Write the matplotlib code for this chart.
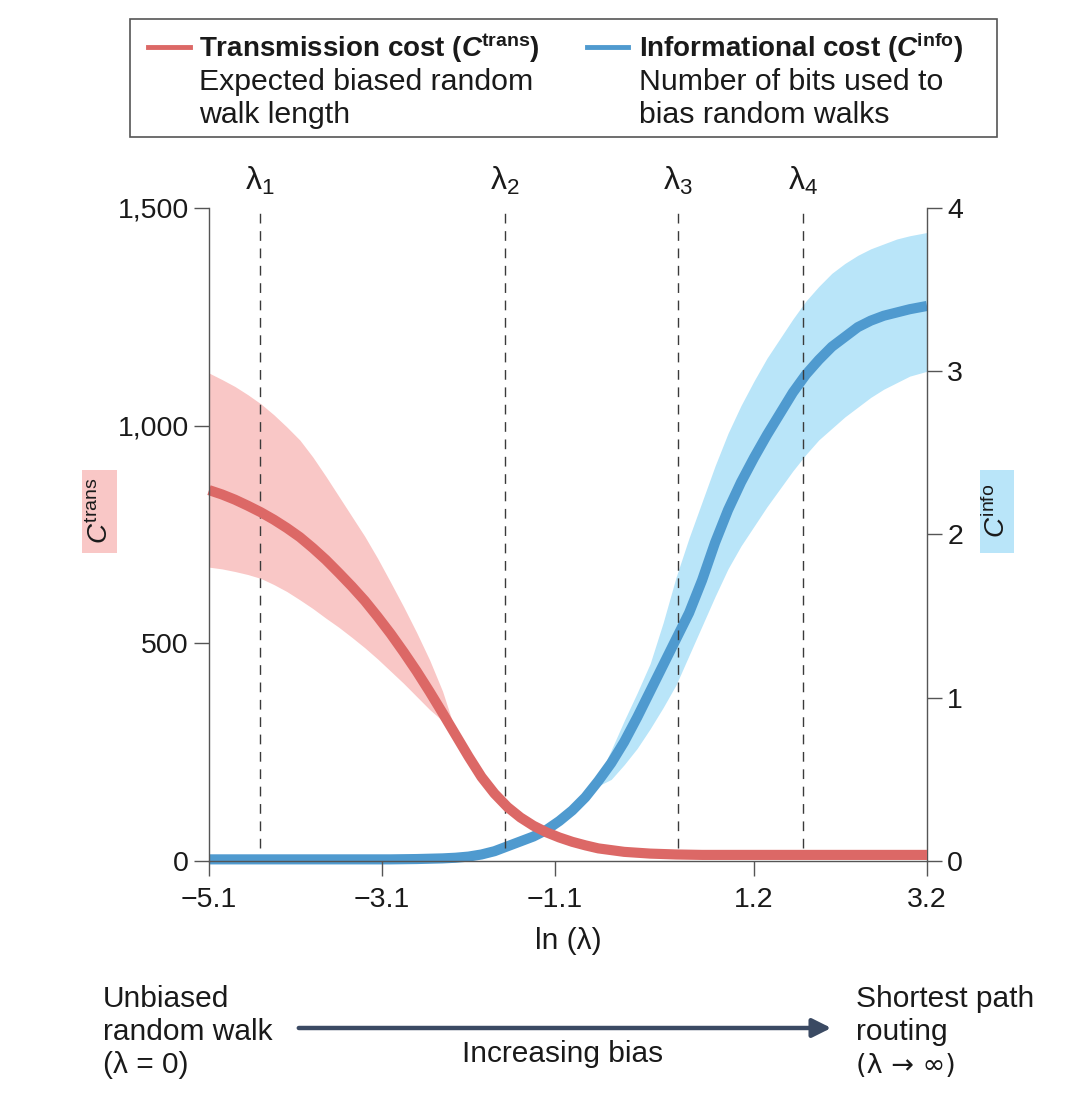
import matplotlib
matplotlib.use("Agg")
import matplotlib.pyplot as plt
from matplotlib.patches import Rectangle, FancyArrowPatch
from matplotlib.lines import Line2D

plt.rcParams["font.family"] = ["Liberation Sans", "DejaVu Sans"]
plt.rcParams["mathtext.fontset"] = "custom"
plt.rcParams["mathtext.rm"] = "Liberation Sans"
plt.rcParams["mathtext.it"] = "Liberation Sans:italic"
plt.rcParams["mathtext.bf"] = "Liberation Sans:bold"
plt.rcParams["mathtext.bfit"] = "Liberation Sans:bold:italic"

W, H = 1080, 1094

RED = "#dc6866"
RED_BAND = "#f9c7c6"
BLUE = "#4f9acf"
BLUE_BAND = "#b9e5f9"
NAVY = "#3b4a63"
AXIS_GREY = "#555555"
TEXT = "#1a1a1a"

# transmission cost (left axis)
RED_X = [-5.1, -4.95, -4.8, -4.65, -4.5, -4.35, -4.2, -4.05, -3.9, -3.75,
         -3.6, -3.45, -3.3, -3.15, -3.0, -2.85, -2.7, -2.55, -2.4, -2.25,
         -2.1, -1.95, -1.8, -1.65, -1.5, -1.35, -1.2, -1.05, -0.9, -0.75,
         -0.6, -0.45, -0.3, -0.15, 0.0, 0.3, 0.6, 3.2]
RED_Y = [852, 842, 830, 816, 801, 784, 765, 744, 719, 692,
         662, 631, 598, 561, 522, 480, 436, 389, 340, 290,
         240, 193, 155, 124, 100, 81, 66, 54, 44, 36,
         29, 25, 21, 19, 17, 15, 14, 14]
RED_BAND_X = [-5.1, -4.95, -4.8, -4.65, -4.5, -4.35, -4.2, -4.05, -3.9, -3.75,
              -3.6, -3.45, -3.3, -3.15, -3.0, -2.85, -2.7, -2.55, -2.4, -2.25]
RED_BAND_UPPER = [1121, 1106, 1090, 1071, 1050, 1025, 997, 967, 928, 884,
                  838, 792, 746, 695, 640, 584, 525, 462, 390, 298]
RED_BAND_LOWER = [675, 671, 665, 658, 649, 635, 619, 600, 580, 558,
                  537, 514, 490, 464, 436, 408, 378, 348, 322, 298]

# informational cost (right axis)
BLUE_X = [-5.1, -3.0, -2.7, -2.4, -2.25, -2.1, -1.95, -1.8, -1.65, -1.5,
          -1.35, -1.2, -1.05, -0.9, -0.75, -0.6, -0.45, -0.3, -0.15, 0.0,
          0.15, 0.3, 0.45, 0.6, 0.75, 0.9, 1.05, 1.2, 1.35, 1.5,
          1.65, 1.8, 1.95, 2.1, 2.25, 2.4, 2.55, 2.7, 2.85, 3.0, 3.2]
BLUE_Y = [0.01, 0.01, 0.012, 0.016, 0.02, 0.027, 0.04, 0.06, 0.09, 0.12,
          0.15, 0.19, 0.245, 0.31, 0.39, 0.49, 0.60, 0.73, 0.88, 1.04,
          1.20, 1.36, 1.52, 1.72, 1.95, 2.15, 2.32, 2.47, 2.61, 2.74,
          2.87, 2.98, 3.07, 3.15, 3.21, 3.27, 3.31, 3.34, 3.36, 3.38, 3.40]
BLUE_BAND_X = [-0.7, -0.6, -0.45, -0.3, -0.15, 0.0, 0.15, 0.3, 0.45, 0.6,
               0.75, 0.9, 1.05, 1.2, 1.35, 1.5, 1.65, 1.8, 1.95, 2.1,
               2.25, 2.4, 2.55, 2.7, 2.85, 3.0, 3.2]
BLUE_BAND_UPPER = [0.43, 0.51, 0.68, 0.86, 1.03, 1.21, 1.46, 1.74, 1.98, 2.20,
                   2.42, 2.62, 2.79, 2.94, 3.08, 3.20, 3.32, 3.43, 3.52, 3.60,
                   3.66, 3.71, 3.75, 3.78, 3.81, 3.83, 3.85]
BLUE_BAND_LOWER = [0.43, 0.46, 0.50, 0.59, 0.69, 0.81, 0.94, 1.08, 1.26, 1.44,
                   1.62, 1.79, 1.93, 2.05, 2.17, 2.28, 2.39, 2.49, 2.58, 2.65,
                   2.72, 2.78, 2.84, 2.89, 2.93, 2.97, 3.00]

LAMBDA_X = [-4.51, -1.68, 0.32, 1.77]
LAMBDA_LABELS = [r"$\mathrm{λ}_{\mathrm{%d}}$" % i for i in (1, 2, 3, 4)]

X_TICKS = [-5.1, -3.1, -1.1, 1.2, 3.2]
X_TICK_LABELS = ["\u22125.1", "\u22123.1", "\u22121.1", "1.2", "3.2"]
LEFT_TICKS = [0, 500, 1000, 1500]
LEFT_TICK_LABELS = ["0", "500", "1,000", "1,500"]
RIGHT_TICKS = [0, 1, 2, 3, 4]


def fx(px):
    return px / W


def fy(py):
    return 1 - py / H


def style_ticks(axis_obj, pad):
    axis_obj.tick_params(direction="out", length=10.5, width=1.0,
                         color=AXIS_GREY, labelsize=20.5, labelcolor=TEXT,
                         pad=pad)


def main():
    fig = plt.figure(figsize=(W / 100, H / 100), dpi=100)

    ax = fig.add_axes([fx(209), fy(861), fx(927) - fx(209), fy(208) - fy(861)])
    ax2 = ax.twinx()
    ax.set_zorder(2)
    ax2.set_zorder(1)
    ax.patch.set_visible(False)

    # bands and curves
    ax.fill_between(RED_BAND_X, RED_BAND_LOWER, RED_BAND_UPPER,
                    color=RED_BAND, lw=0, zorder=1)
    ax2.fill_between(BLUE_BAND_X, BLUE_BAND_LOWER, BLUE_BAND_UPPER,
                     color=BLUE_BAND, lw=0, zorder=1)

    ax.vlines(LAMBDA_X, 30, 1500, colors="#3a3a3a", lw=1.0,
              linestyles=(0, (7, 5.5)), zorder=1.5)

    ax2.plot(BLUE_X, BLUE_Y, color=BLUE, lw=7.3, solid_capstyle="butt",
             solid_joinstyle="round", clip_on=False, zorder=2)
    ax.plot(RED_X, RED_Y, color=RED, lw=7.3, solid_capstyle="butt",
            solid_joinstyle="round", clip_on=False, zorder=2)

    for lx, lab in zip(LAMBDA_X, LAMBDA_LABELS):
        ax.text(lx, 1.028, lab, transform=ax.get_xaxis_transform(),
                ha="center", va="baseline", fontsize=23, color=TEXT)

    # axes
    ax.set_xlim(-5.1, 3.2)
    ax.set_ylim(0, 1500)
    ax2.set_ylim(0, 4)

    ax.set_xticks(X_TICKS)
    ax.set_xticklabels(X_TICK_LABELS)
    ax.set_yticks(LEFT_TICKS)
    ax.set_yticklabels(LEFT_TICK_LABELS)
    ax2.set_yticks(RIGHT_TICKS)

    style_ticks(ax, 4)
    ax.tick_params(axis="x", pad=8)
    style_ticks(ax2, 4)

    for side in ["top", "right"]:
        ax.spines[side].set_visible(False)
    for side in ["top", "left", "bottom"]:
        ax2.spines[side].set_visible(False)
    for sp in [ax.spines["left"], ax.spines["bottom"], ax2.spines["right"]]:
        sp.set_color(AXIS_GREY)
        sp.set_linewidth(1.0)

    ax.set_xlabel("ln (λ)", fontsize=21.5, color=TEXT, labelpad=10)

    # axis name boxes
    fig.add_artist(Rectangle((fx(82), fy(553)), fx(35), fy(470) - fy(553),
                             transform=fig.transFigure, fc=RED_BAND, ec="none"))
    fig.text(fx(100), fy(511), r"$\mathit{C}^{\mathrm{trans}}$", rotation=90,
             ha="center", va="center", fontsize=20, color=TEXT)
    fig.add_artist(Rectangle((fx(980), fy(553)), fx(34), fy(470) - fy(553),
                             transform=fig.transFigure, fc=BLUE_BAND, ec="none"))
    fig.text(fx(997), fy(511), r"$\mathit{C}^{\mathrm{info}}$", rotation=90,
             ha="center", va="center", fontsize=20, color=TEXT)

    # legend box
    fig.add_artist(Rectangle((fx(130), fy(137)), fx(997) - fx(130), fy(19) - fy(137),
                             transform=fig.transFigure, fc="white",
                             ec=AXIS_GREY, lw=1.2))
    fig.add_artist(Line2D([fx(148), fx(190)], [fy(47), fy(47)],
                          transform=fig.transFigure, color=RED, lw=3.5))
    fig.add_artist(Line2D([fx(587), fx(628)], [fy(47), fy(47)],
                          transform=fig.transFigure, color=BLUE, lw=3.5))

    legend_rows = [
        (199, [r"Transmission cost ($\mathbfit{C}^{\mathbf{trans}}$)",
               "Expected biased random", "walk length"]),
        (639, [r"Informational cost ($\mathbfit{C}^{\mathbf{info}}$)",
               "Number of bits used to", "bias random walks"]),
    ]
    for x0, lines in legend_rows:
        for i, (txt, base) in enumerate(zip(lines, [57, 90, 123])):
            fig.text(fx(x0), fy(base), txt, ha="left", va="baseline",
                     fontsize=20 if i == 0 else 21.8, color=TEXT,
                     fontweight="bold" if i == 0 else "normal")

    # bottom annotation
    bottom_left = ["Unbiased", "random walk", "(λ = 0)"]
    bottom_right = ["Shortest path", "routing", "(λ \u2192 \u221e)"]
    for i, base in enumerate([1007, 1040, 1073]):
        fig.text(fx(103), fy(base), bottom_left[i], ha="left", va="baseline",
                 fontsize=21.5, color=TEXT)
        fam = ["DejaVu Sans"] if i == 2 else ["Liberation Sans", "DejaVu Sans"]
        fig.text(fx(856), fy(base), bottom_right[i], ha="left", va="baseline",
                 fontsize=21.5 if i < 2 else 19.5, color=TEXT, family=fam)
    fig.text(fx(563), fy(1062), "Increasing bias", ha="center",
             va="baseline", fontsize=21.5, color=TEXT)
    fig.add_artist(FancyArrowPatch((fx(296), fy(1028)), (fx(834), fy(1028)),
                                   transform=fig.transFigure,
                                   arrowstyle="-|>", mutation_scale=28,
                                   lw=3.2, color=NAVY))

    fig.savefig("out.png", dpi=100)
    plt.close(fig)


if __name__ == "__main__":
    main()
